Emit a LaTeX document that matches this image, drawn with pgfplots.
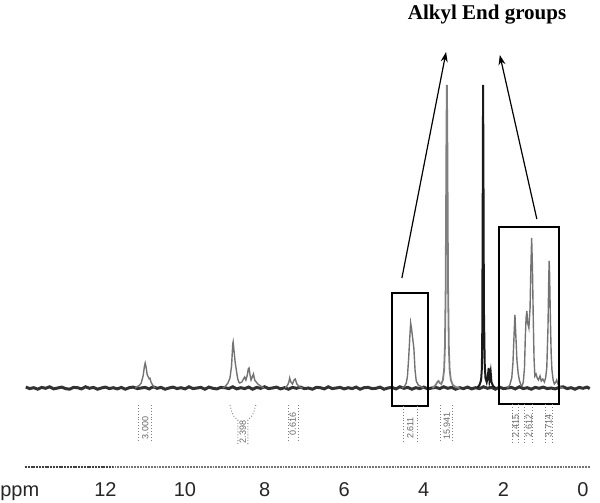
\documentclass[border=0pt]{standalone}
\usepackage{fontspec}
\setmainfont{Liberation Sans}
\newfontfamily\titlefont{Liberation Serif}
\usepackage{pgfplots}
\usepackage{pgfplotstable}
\pgfplotsset{compat=1.18}
\usetikzlibrary{arrows.meta}

\pgfplotstableread{
x y
14.0 1.5
13.9 -1
13.8 0.5
13.7 -2
13.6 1
13.5 -0.5
13.4 2
13.3 -1.5
13.2 0
13.1 1.5
13.0 -1
12.9 -2
12.8 1
12.7 0.5
12.6 -1.5
12.5 2
12.4 -0.5
12.3 1
12.2 -2
12.1 0
12.0 1.5
11.9 -1
11.8 0.5
11.7 -1.5
11.6 1
11.5 -2
11.4 0.5
11.3 1.5
11.2 -1
11.1 0
11.0 1
10.9 -1.5
10.8 2
10.7 -0.5
10.6 1
10.5 -2
10.4 0
10.3 1.5
10.2 -1
10.1 0.5
10.0 -1.5
9.9 2
9.8 -1
9.7 0
9.6 1
9.5 -2
9.4 1.5
9.3 -0.5
9.2 -1.5
9.1 1
9.0 0.5
8.9 -1
8.8 2
8.7 -1.5
8.6 0.5
8.5 -1
8.4 1.5
8.3 -2
8.2 1
8.1 -0.5
8.0 2
7.9 -1
7.8 0
7.7 1.5
7.6 -1.5
7.5 0.5
7.4 -2
7.3 1
7.2 -0.5
7.1 1.5
7.0 -1
6.9 0
6.8 -2
6.7 1
6.6 0.5
6.5 -1.5
6.4 2
6.3 -1
6.2 0
6.1 1
6.0 -1.5
5.9 0.5
5.8 -1
5.7 1.5
5.6 -2
5.5 0.5
5.4 1
5.3 -1
5.2 -0.5
5.1 1.5
5.0 -2
4.9 0
4.8 1
4.7 -1.5
4.6 2
4.5 -0.5
4.4 1
4.3 -2
4.2 0.5
4.1 -1
4.0 1.5
3.9 -1.5
3.8 0
3.7 1
3.6 -1
3.5 2
3.4 -0.5
3.3 1
3.2 -2
3.1 0.5
3.0 -1
2.9 1.5
2.8 -1.5
2.7 0.5
2.6 -1
2.5 2
2.4 -0.5
2.3 1
2.2 -2
2.1 1.5
2.0 -1
1.9 0
1.8 1
1.7 -1.5
1.6 2
1.5 -1
1.4 0.5
1.3 -2
1.2 1
1.1 -0.5
1.0 1.5
0.9 -1
0.8 0
0.7 -1.5
0.6 1
0.5 2
0.4 -1
0.3 0.5
0.2 -2
0.1 1
0.0 -0.5
-0.1 1.5
-0.17 -1
}\baseline

\pgfplotstableread{
x y
11.25 0
11.20 1.5
11.15 2.5
11.10 5
11.05 12.5
11.02 21.5
11.00 25
10.98 21.5
10.95 13.4
10.90 9.2
10.88 9.7
10.85 5.5
10.80 2.2
10.75 0
}\peakA

\pgfplotstableread{
x y
9.05 0
8.98 2
8.92 5
8.87 10
8.83 22
8.80 44
8.79 46
8.77 38
8.74 26
8.71 18
8.68 10
8.65 6
8.62 5
8.57 6
8.53 9
8.50 11
8.47 8
8.44 12
8.41 19
8.39 20
8.37 14
8.34 8
8.31 11
8.28 14
8.25 8
8.21 6
8.17 4
8.10 2
8.02 0
}\peakB

\pgfplotstableread{
x y
7.48 0
7.42 3
7.39 6
7.37 10
7.34 6
7.30 4
7.26 8
7.23 9
7.19 4
7.12 1
7.05 0
}\peakC

\pgfplotstableread{
x y
4.55 0
4.48 2
4.44 5
4.41 12
4.38 30
4.35 52
4.33 65
4.31 60
4.28 50
4.25 40
4.22 18
4.19 7
4.14 3
4.05 1
4.00 0
}\peakD

\pgfplotstableread{
x y
3.78 0
3.70 3
3.66 6
3.63 7
3.60 5
3.56 4
3.52 8
3.49 18
3.47 40
3.45 100
3.44 180
3.43 260
3.42 303
3.41 260
3.40 180
3.39 100
3.37 40
3.35 18
3.32 8
3.27 3
3.20 1
3.10 0
}\peakE

\pgfplotstableread{
x y
2.66 0
2.60 3
2.56 8
2.54 20
2.53 60
2.52 180
2.51 303
2.50 200
2.49 80
2.47 25
2.45 10
2.42 6
2.39 12
2.37 20
2.35 8
2.32 16
2.30 6
2.26 2
2.20 0
}\peakF

\pgfplotstableread{
x y
1.90 0
1.84 3
1.79 10
1.76 25
1.73 55
1.71 73
1.69 55
1.66 28
1.63 15
1.60 8
1.56 3
1.53 2
1.50 6
1.47 20
1.45 50
1.43 70
1.41 77
1.39 65
1.36 60
1.33 80
1.31 120
1.29 150
1.27 120
1.25 70
1.23 30
1.21 12
1.18 14
1.15 10
1.12 8
1.08 12
1.05 7
1.01 9
0.97 6
0.94 10
0.91 20
0.88 60
0.86 110
0.85 127
0.84 115
0.82 70
0.80 35
0.78 18
0.75 8
0.72 4
0.68 6
0.66 8
0.63 4
0.58 1
0.50 0
}\peakG

\begin{document}
\begin{tikzpicture}
\path[use as bounding box] (0,0) rectangle (300pt,251.5pt);
\begin{axis}[
  at={(0pt,18pt)}, anchor=south west,
  scale only axis, width=300pt, height=233.5pt,
  x dir=reverse,
  xmin=-0.427, xmax=14.648,
  ymin=-79, ymax=388,
  clip=false,
  axis line style={draw=none},
  major tick length=0pt,
  ytick=\empty,
  xtick={0,2,4,6,8,10,12},
  extra x ticks={14.15},
  extra x tick labels={ppm},
  /pgf/number format/assume math mode=true,
  xticklabel style={anchor=base, yshift=-15pt, font=\fontsize{10}{12}\selectfont, text=black!85},
]
% ruler
\draw[black!55, line width=0.7pt, dash pattern=on 0.9pt off 0.5pt] (axis cs:14.02,-79) -- (axis cs:-0.18,-79);
\draw[black!75, line width=0.8pt, dash pattern=on 1pt off 0.4pt] (axis cs:14.02,-79) -- (axis cs:11.8,-79);

% spectrum
\addplot[black!80, line width=1.5pt] table[x=x,y expr=0.6*\thisrow{y}] {\baseline};
\addplot[black!55, line width=0.7pt] table[x=x,y=y] {\peakA};
\addplot[black!55, line width=0.7pt] table[x=x,y=y] {\peakB};
\addplot[black!55, line width=0.7pt] table[x=x,y=y] {\peakC};
\addplot[black!55, line width=0.7pt] table[x=x,y=y] {\peakD};
\addplot[black!50, line width=0.9pt] table[x=x,y=y] {\peakE};
\addplot[black!90, line width=1.0pt] table[x=x,y=y] {\peakF};
\addplot[black!55, line width=0.7pt] table[x=x,y=y] {\peakG};

% boxes
\draw[black, line width=0.75pt] (axis cs:4.80,95) rectangle (axis cs:3.89,-18);
\draw[black, line width=0.75pt] (axis cs:2.11,161) rectangle (axis cs:0.60,-16);

% arrows
\draw[black, line width=0.6pt, -{Stealth[length=5pt,width=3.5pt]}] (axis cs:4.55,110) -- (axis cs:3.44,336);
\draw[black, line width=0.6pt, -{Stealth[length=5pt,width=3.5pt]}] (axis cs:1.16,169) -- (axis cs:2.09,333);

\node[font=\titlefont\bfseries\fontsize{10.5}{12}\selectfont] at (axis cs:2.41,373) {Alkyl End groups};

% integration marks
\tikzset{intl/.style={black!50, line width=0.45pt, densely dotted},
         intn/.style={rotate=90, text=black!60, font=\fontsize{4.5}{5}\selectfont, inner sep=0pt}}
\draw[intl] (axis cs:11.16,-17) -- (axis cs:11.16,-52);
\draw[intl] (axis cs:10.85,-17) -- (axis cs:10.85,-52);
\node[intn] at (axis cs:11.00,-40) {3.000};

\draw[intl] (axis cs:8.87,-17) .. controls (axis cs:8.80,-28) .. (axis cs:8.67,-32) -- (axis cs:8.67,-57);
\draw[intl] (axis cs:8.22,-17) .. controls (axis cs:8.30,-28) .. (axis cs:8.42,-32) -- (axis cs:8.42,-57);
\node[intn] at (axis cs:8.545,-44) {2.398};

\draw[intl] (axis cs:7.41,-17) -- (axis cs:7.41,-52);
\draw[intl] (axis cs:7.16,-17) -- (axis cs:7.16,-52);
\node[intn] at (axis cs:7.29,-36) {0.616};

\draw[intl] (axis cs:4.52,-18) -- (axis cs:4.52,-54);
\draw[intl] (axis cs:4.15,-18) -- (axis cs:4.15,-54);
\node[intn] at (axis cs:4.34,-40) {2.611};

\draw[intl] (axis cs:3.57,-17) -- (axis cs:3.57,-54);
\draw[intl] (axis cs:3.27,-17) -- (axis cs:3.27,-54);
\node[intn] at (axis cs:3.42,-38) {15.941};

\draw[intl] (axis cs:1.78,-16) -- (axis cs:1.78,-54);
\draw[intl] (axis cs:1.61,-16) -- (axis cs:1.61,-54);
\node[intn] at (axis cs:1.695,-38) {2.415};

\draw[intl] (axis cs:1.46,-16) -- (axis cs:1.46,-54);
\draw[intl] (axis cs:1.26,-16) -- (axis cs:1.26,-54);
\node[intn] at (axis cs:1.36,-38) {2.612};

\draw[intl] (axis cs:0.95,-16) -- (axis cs:0.95,-54);
\draw[intl] (axis cs:0.78,-16) -- (axis cs:0.78,-54);
\node[intn] at (axis cs:0.865,-38) {3.714};
\end{axis}
\end{tikzpicture}
\end{document}
